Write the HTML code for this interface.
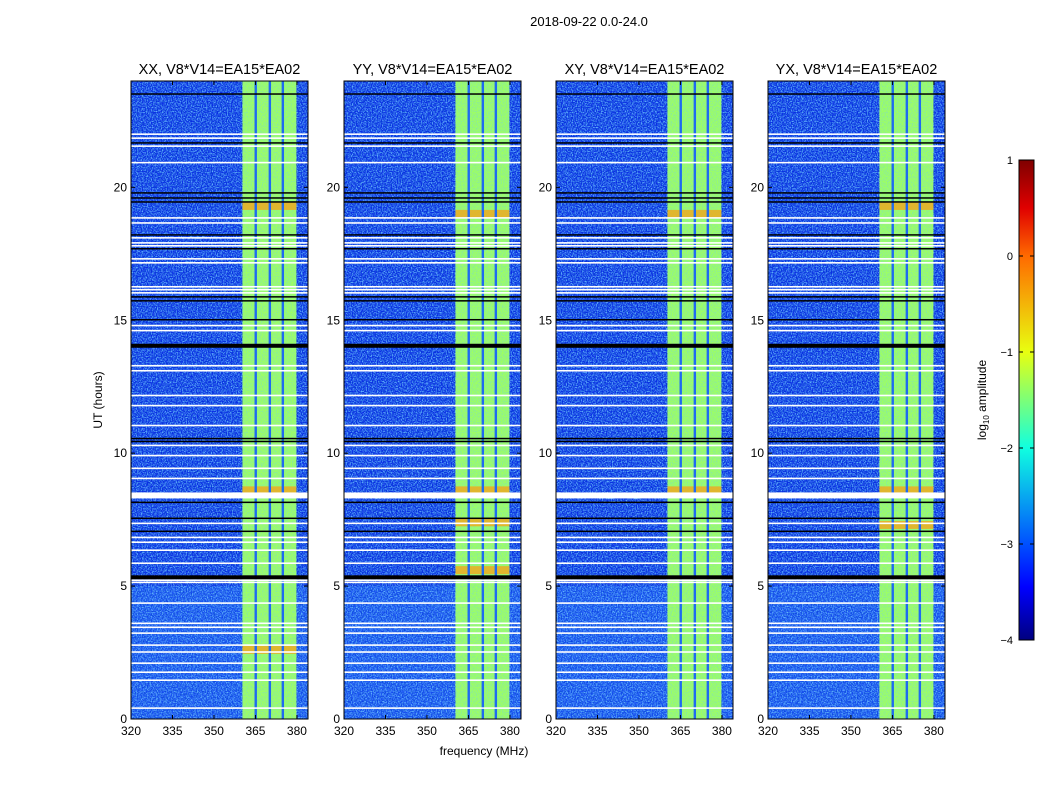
<!DOCTYPE html>
<html><head><meta charset="utf-8"><style>
body{margin:0;background:#fff;}
svg{display:block;font-family:"Liberation Sans",sans-serif;}
</style></head><body>
<svg id="fig" width="1050" height="800" viewBox="0 0 1050 800">
<defs>
<filter id="noise" x="0" y="0" width="100%" height="100%">
<feTurbulence type="fractalNoise" baseFrequency="0.8" numOctaves="1" seed="3"/>
<feColorMatrix type="matrix" values="0 0 0 0 0.15  0 0 0 0 0.55  0 0 0 0 1  3.2 0 0 0 -1.25"/>
</filter>
<filter id="noise2" x="0" y="0" width="100%" height="100%">
<feTurbulence type="fractalNoise" baseFrequency="0.7" numOctaves="1" seed="9"/>
<feColorMatrix type="matrix" values="0 0 0 0 0  0 0 0 0 0.05  0 0 0 0 0.6  3 0 0 0 -1.3"/>
</filter>
<linearGradient id="jet" x1="0" y1="1" x2="0" y2="0">
<stop offset="0" stop-color="#00007f"/><stop offset="0.11" stop-color="#0000ff"/>
<stop offset="0.2" stop-color="#0050ff"/><stop offset="0.4" stop-color="#10ffe0"/>
<stop offset="0.6" stop-color="#e8ff10"/><stop offset="0.8" stop-color="#ff6a00"/>
<stop offset="0.9" stop-color="#e00000"/><stop offset="1" stop-color="#7f0000"/>
</linearGradient>
</defs>
<text x="589" y="26" font-size="13" text-anchor="middle">2018-09-22 0.0-24.0</text>
<text x="484" y="755" font-size="12" text-anchor="middle">frequency (MHz)</text>
<text transform="translate(102,400) rotate(-90)" font-size="12" text-anchor="middle">UT (hours)</text>
<g id="panels"></g>
<g>
<rect x="1019" y="160" width="15" height="480" fill="url(#jet)" stroke="#000" stroke-width="1"/>
<text transform="translate(986,400) rotate(-90)" font-size="12" text-anchor="middle">log<tspan font-size="8" dy="3">10</tspan><tspan dy="-3"> amplitude</tspan></text>
<g id="cbticks"></g>
</g>
</svg>
<script>
const titles=["XX, V8*V14=EA15*EA02","YY, V8*V14=EA15*EA02","XY, V8*V14=EA15*EA02","YX, V8*V14=EA15*EA02"];
const panelLeft=[131,344,556,768];
const xTicks=[320,335,350,365,380];
const yTicks=[0,5,10,15,20];
const bandStart=360.3, bandEnd=379.8;
const darkCols=[365.1,370.2,374.9];
const blackThin=[23.51,21.67,19.79,19.60,19.45,18.21,17.69,15.88,15.73,15.02,10.55,10.44,8.15,7.55,7.06];
const blackThick=[14.04,5.33];
const whiteThin=[22.0,21.85,21.55,20.93,18.85,18.66,18.10,17.91,17.80,17.31,17.16,16.26,16.15,16.03,14.80,14.61,13.29,13.1,12.17,11.79,11.04,10.29,9.91,9.43,9.05,7.36,6.83,6.65,6.35,5.86,5.22,5.14,4.36,3.6,3.45,3.23,2.78,2.52,2.10,1.76,1.46,0.41];
const whiteThick=[8.41];
const hotRowsP1=[19.3,8.6,2.6];
const hotRowsP2=[8.6,7.4,5.6,19.0];
const hotRowsP3=[8.6,19.0];
const hotRowsP4=[8.6,19.3,7.3];
const hotRows=[hotRowsP1,hotRowsP2,hotRowsP3,hotRowsP4];
const cbTicks=[1,0,-1,-2,-3,-4];

const NS="http://www.w3.org/2000/svg";
const W=177,TOP=81,BOT=719;
const fx=(f,l)=>l+(f-320)*(W/64);
const fy=h=>BOT-(h/24)*(BOT-TOP);
function mk(tag,attrs,parent){const e=document.createElementNS(NS,tag);for(const k in attrs)e.setAttribute(k,attrs[k]);parent.appendChild(e);return e;}
const root=document.getElementById('panels');
panelLeft.forEach((l,i)=>{
  const g=mk('g',{},root);
  
  
  const bg=mk('rect',{x:l,y:TOP,width:W,height:BOT-TOP,fill:'#0c2ee6'},g);
  
  
  const low=mk('rect',{x:l,y:fy(5),width:W,height:BOT-fy(5),fill:'#1a50f4'},g);
  
  
  mk('rect',{x:l,y:TOP,width:W,height:BOT-TOP,filter:'url(#noise)',opacity:0.9},g);
  mk('rect',{x:l,y:TOP,width:W,height:BOT-TOP,filter:'url(#noise2)',opacity:0.7},g);
  const bx=fx(bandStart,l),bw=fx(bandEnd,l)-bx;
  const band=mk('rect',{x:bx,y:TOP,width:bw,height:BOT-TOP,fill:'#80ff80'},g);
  
  
  mk('rect',{x:bx,y:TOP,width:bw,height:BOT-TOP,fill:'#e0ff20',opacity:0.3},g);
  mk('rect',{x:bx,y:TOP,width:bw,height:BOT-TOP,filter:'url(#noise)',opacity:0.35},g);
  hotRows[i].forEach(h=>{
    const r=mk('rect',{x:bx,y:fy(h)-4,width:bw,height:8,fill:'#ff9a10',opacity:0.7},g);
    
    
  });
  darkCols.forEach(f=>{
    const c=mk('rect',{x:fx(f,l)-1.2,y:TOP,width:2.4,height:BOT-TOP,fill:'#1f6af0'},g);
    
    
  });
  const lineSets=[[blackThin,'#000',1.5],[blackThick,'#000',4],[whiteThin,'#fff',1.6],[whiteThick,'#fff',6]];
  lineSets.forEach(([arr,col,w])=>arr.forEach(h=>{
    const ln=mk('rect',{x:l,y:fy(h)-w/2,width:W,height:w,fill:col},g);
    
    
  }));
  const fr=mk('rect',{x:l,y:TOP,width:W,height:BOT-TOP,fill:'none',stroke:'#000','stroke-width':1},g);
  
  
  const t=mk('text',{x:l+W/2,y:74,'font-size':14.5,'text-anchor':'middle'},g);
  t.textContent=titles[i];
  
  
  xTicks.forEach(v=>{
    const x=fx(v,l);
    mk('line',{x1:x,x2:x,y1:BOT,y2:BOT-4,stroke:'#000'},g);
    mk('line',{x1:x,x2:x,y1:TOP,y2:TOP+4,stroke:'#000'},g);
    const tl=mk('text',{x:x,y:BOT+16,'font-size':12,'text-anchor':'middle'},g);
    tl.textContent=v;
    
    
  });
  yTicks.forEach(v=>{
    const y=fy(v);
    mk('line',{x1:l,x2:l+4,y1:y,y2:y,stroke:'#000'},g);
    mk('line',{x1:l+W,x2:l+W-4,y1:y,y2:y,stroke:'#000'},g);
    const tl=mk('text',{x:l-4,y:y+4,'font-size':12,'text-anchor':'end'},g);
    tl.textContent=v;
    
    
  });
});
const cb=document.getElementById('cbticks');
cbTicks.forEach(v=>{
  const y=160+(1-v)/5*480;
  mk('line',{x1:1019,x2:1023,y1:y,y2:y,stroke:'#000'},cb);
  mk('line',{x1:1030,x2:1034,y1:y,y2:y,stroke:'#000'},cb);
  const t=mk('text',{x:1013,y:y+4,'font-size':11,'text-anchor':'end'},cb);
  t.textContent=v<0?'\u2212'+(-v):v;
  
  
});
</script>
</body></html>
